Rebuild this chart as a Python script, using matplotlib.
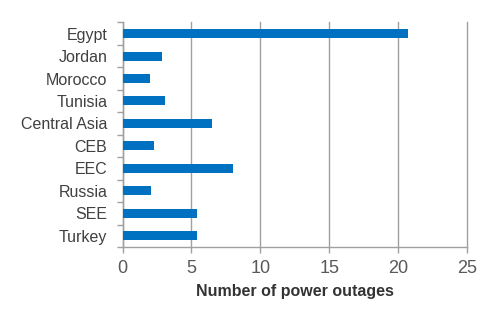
import matplotlib.pyplot as plt

countries = ['Egypt', 'Jordan', 'Morocco', 'Tunisia', 'Central Asia',
             'CEB', 'EEC', 'Russia', 'SEE', 'Turkey']
outages = [20.7, 2.9, 2.0, 3.1, 6.5, 2.3, 8.05, 2.1, 5.4, 5.4]
xticks = [0, 5, 10, 15, 20, 25]

plt.rcParams['font.family'] = ['Liberation Sans Narrow', 'Liberation Sans', 'DejaVu Sans']

fig = plt.figure(figsize=(5, 3.33), dpi=100)
ax = fig.add_axes([0.245, 0.258, 0.689, 0.675])

pos = list(range(len(countries)))
ax.barh(pos, outages, height=0.4, color='#0070C0', zorder=3)

ax.set_ylim(len(countries) - 0.5, -0.5)
ax.set_xlim(0, 25)
ax.set_xticks(xticks)
ax.set_xticklabels([str(t) for t in xticks])

# category labels centred, ticks on the boundaries
ax.set_yticks(pos)
ax.set_yticklabels(countries)
ax.set_yticks([p - 0.5 for p in pos] + [len(pos) - 0.5], minor=True)
ax.tick_params(axis='y', which='major', length=0, pad=11, labelsize=11.5, labelcolor='#404040')
ax.tick_params(axis='y', which='minor', length=4, color='#A0A0A0', width=1)
ax.tick_params(axis='x', length=4, color='#A0A0A0', width=1, labelsize=13,
               labelcolor='#595959', pad=5)

ax.grid(axis='x', color='#A0A0A0', lw=1, zorder=0)
for gl in ax.get_xgridlines():
    gl.set_clip_on(False)
for side in ['top', 'right']:
    ax.spines[side].set_visible(False)
for side in ['left', 'bottom']:
    ax.spines[side].set_color('#A0A0A0')
    ax.spines[side].set_linewidth(1)

ax.set_xlabel('Number of power outages', fontsize=11.5, fontweight='bold',
              color='#333333', labelpad=5)

plt.savefig('out.png', dpi=100)
